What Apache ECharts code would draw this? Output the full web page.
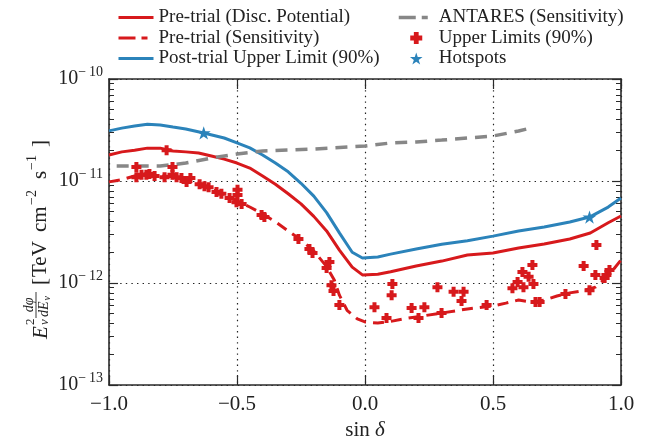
<!DOCTYPE html>
<html><head><meta charset="utf-8">
<script src="https://cdn.jsdelivr.net/npm/echarts@6/dist/echarts.min.js"></script>
<style>html,body{margin:0;padding:0;background:#fff}#c{width:646px;height:438px}</style>
</head><body><div id="c"></div>
<script>
// ---- data (sin(declination), flux E^2 dphi/dE in TeV cm^-2 s^-1) ----
const xTicks = [-1.0, -0.5, 0.0, 0.5, 1.0];
const yDecades = [1e-13, 1e-12, 1e-11, 1e-10];

const discPotential = [[-1.0,1.8e-11],[-0.95,1.93e-11],[-0.9,2.0e-11],[-0.85,2.1e-11],[-0.8,2.1e-11],[-0.75,1.97e-11],[-0.7,1.93e-11],[-0.65,1.88e-11],[-0.6,1.76e-11],[-0.55,1.64e-11],[-0.5,1.5e-11],[-0.45,1.34e-11],[-0.4,1.12e-11],[-0.35,9.3e-12],[-0.3,7.5e-12],[-0.25,5.96e-12],[-0.2,4.5e-12],[-0.15,3.24e-12],[-0.1,2.1e-12],[-0.05,1.43e-12],[-0.01,1.2e-12],[0.05,1.22e-12],[0.1,1.29e-12],[0.2,1.47e-12],[0.3,1.64e-12],[0.4,1.88e-12],[0.5,1.97e-12],[0.6,2.2e-12],[0.7,2.41e-12],[0.8,2.7e-12],[0.88,3.09e-12],[0.95,3.9e-12],[1.0,4.54e-12]];

const sensitivity = [[-1.0,9.8e-12],[-0.95,1.03e-11],[-0.9,1.12e-11],[-0.85,1.15e-11],[-0.8,1.12e-11],[-0.75,1.1e-11],[-0.7,1.05e-11],[-0.65,9.6e-12],[-0.6,8.35e-12],[-0.55,7.3e-12],[-0.5,6.4e-12],[-0.45,5.56e-12],[-0.4,4.76e-12],[-0.35,3.98e-12],[-0.3,3.24e-12],[-0.25,2.64e-12],[-0.2,2.06e-12],[-0.15,1.45e-12],[-0.12,1.07e-12],[-0.1,7.6e-13],[-0.07,5.4e-13],[-0.03,4.45e-13],[0.0,4.15e-13],[0.05,4.05e-13],[0.1,4.2e-13],[0.15,4.45e-13],[0.2,4.65e-13],[0.3,5.08e-13],[0.4,5.56e-13],[0.5,5.95e-13],[0.55,6.35e-13],[0.6,6.8e-13],[0.65,6.5e-13],[0.7,6.8e-13],[0.75,7.45e-13],[0.8,8.0e-13],[0.85,8.4e-13],[0.9,9.1e-13],[0.95,1.17e-12],[1.0,1.68e-12]];

const postTrialUL = [[-1.0,3.1e-11],[-0.95,3.3e-11],[-0.9,3.46e-11],[-0.85,3.6e-11],[-0.8,3.54e-11],[-0.75,3.38e-11],[-0.7,3.24e-11],[-0.63,2.96e-11],[-0.55,2.64e-11],[-0.5,2.36e-11],[-0.45,2.11e-11],[-0.4,1.8e-11],[-0.35,1.5e-11],[-0.3,1.23e-11],[-0.25,9.5e-12],[-0.2,7.1e-12],[-0.15,4.9e-12],[-0.1,3.1e-12],[-0.05,2.0e-12],[-0.01,1.76e-12],[0.05,1.8e-12],[0.1,1.92e-12],[0.2,2.15e-12],[0.3,2.4e-12],[0.4,2.6e-12],[0.5,2.88e-12],[0.6,3.23e-12],[0.7,3.54e-12],[0.8,3.97e-12],[0.877,4.43e-12],[0.95,5.55e-12],[1.0,6.8e-12]];

const antares = [[-0.97,1.4e-11],[-0.8,1.4e-11],[-0.7,1.5e-11],[-0.6,1.68e-11],[-0.5,1.84e-11],[-0.4,1.97e-11],[-0.2,2.06e-11],[0.0,2.2e-11],[0.1,2.36e-11],[0.2,2.41e-11],[0.3,2.52e-11],[0.4,2.64e-11],[0.5,2.76e-11],[0.6,3.09e-11],[0.63,3.23e-11]];

const upperLimits = [[-0.893,1.37e-11],[-0.893,1.09e-11],[-0.873,1.15e-11],[-0.854,1.15e-11],[-0.842,1.17e-11],[-0.822,1.12e-11],[-0.783,1.09e-11],[-0.775,2.0e-11],[-0.752,1.37e-11],[-0.752,1.15e-11],[-0.736,1.09e-11],[-0.717,1.07e-11],[-0.697,9.8e-12],[-0.682,1.07e-11],[-0.646,9.3e-12],[-0.627,8.9e-12],[-0.611,8.7e-12],[-0.58,7.8e-12],[-0.561,7.5e-12],[-0.529,6.8e-12],[-0.498,8.2e-12],[-0.498,7.3e-12],[-0.502,6.2e-12],[-0.482,5.95e-12],[-0.404,4.65e-12],[-0.393,4.43e-12],[-0.26,2.7e-12],[-0.217,2.15e-12],[-0.205,1.97e-12],[-0.139,1.61e-12],[-0.15,1.4e-12],[-0.131,9.5e-13],[-0.123,8.35e-13],[-0.1,6.1e-13],[0.037,5.8e-13],[0.084,4.54e-13],[0.104,7.6e-13],[0.107,9.8e-13],[0.182,5.7e-13],[0.209,4.54e-13],[0.232,5.8e-13],[0.283,9.1e-13],[0.299,5.08e-13],[0.346,8.2e-13],[0.385,8.2e-13],[0.377,6.67e-13],[0.475,6.1e-13],[0.576,8.9e-13],[0.596,1.02e-12],[0.615,1.28e-12],[0.619,9.1e-13],[0.639,1.15e-12],[0.654,1.5e-12],[0.658,9.8e-13],[0.666,6.5e-13],[0.682,6.5e-13],[0.783,7.8e-13],[0.854,1.47e-12],[0.877,8.5e-13],[0.9,1.2e-12],[0.904,2.36e-12],[0.943,1.2e-12],[0.955,1.34e-12],[0.936,1.12e-12]];

const hotspots = [[-0.63,2.96e-11],[0.877,4.43e-12]];

// ---- styling ----
const FONT = '"Liberation Serif", "DejaVu Serif", serif';
const INK = '#222';
const RED = '#d7191c', BLUE = '#2b83ba', GRAY = '#878787';
const PLUS = 'path://M3,0H7V3H10V7H7V10H3V7H0V3H3Z';
const STAR = 'path://M10,0L12.245,6.91L19.511,6.91L13.633,11.18L15.878,18.09L10,13.82L4.122,18.09L6.367,11.18L0.489,6.91L7.755,6.91Z';

const minorVals = [];
yDecades.slice(0, -1).forEach(d => { for (let m = 2; m <= 9; m++) minorVals.push(m * d); });

const spine = {show: true, onZero: false, lineStyle: {color: '#2a2a2a', width: 1.6}};
const dotted = {show: true, lineStyle: {color: '#222', width: 1.2, type: [1.4, 4.2]}};

function yAx(pos, opts) {
  return Object.assign({
    type: 'log', logBase: 10, min: yDecades[0], max: yDecades[yDecades.length - 1], position: pos,
    axisLine: spine, axisTick: {show: true, inside: true, length: 9, lineStyle: {color: '#2a2a2a', width: 1.2}},
    axisLabel: {show: false}, splitLine: {show: false}, minorTick: {show: false}
  }, opts);
}
function minorAx(pos) {
  return yAx(pos, {axisLine: {show: false, onZero: false},
    axisTick: {show: true, inside: true, length: 5, customValues: minorVals, lineStyle: {color: '#2a2a2a', width: 1}}});
}
const hideSym = {opacity: 0};
const legendDash = {type: [17, 6, 6, 12]};
const legendText = {fontFamily: FONT, fontSize: 19, color: INK};

// y-axis title pieces (local coords of a rotated group)
function t(text, x, y, size, italic, align) {
  return {type: 'text', x: x, y: y, style: {text: text, fontFamily: FONT, fontStyle: italic ? 'italic' : 'normal',
    fontSize: size, fill: INK, align: align || 'left', verticalAlign: 'middle'}};
}

const chart = echarts.init(document.getElementById('c'));
chart.setOption({
  animation: false,
  backgroundColor: '#fff',
  grid: {left: 109, right: 25, top: 79, bottom: 53, outerBoundsMode: 'none', containLabel: false},
  legend: [
    {data: [{name: 'Pre-trial (Disc. Potential)', itemStyle: hideSym},
            {name: 'Pre-trial (Sensitivity)', itemStyle: hideSym, lineStyle: legendDash},
            {name: 'Post-trial Upper Limit (90%)', itemStyle: hideSym}],
     orient: 'vertical', left: 117, top: 8, padding: 0, itemWidth: 35, itemHeight: 12, itemGap: 1.5,
     lineStyle: {width: 'inherit'}, textStyle: legendText},
    {data: [{name: 'ANTARES (Sensitivity)', itemStyle: hideSym, lineStyle: legendDash}, 'Upper Limits (90%)', 'Hotspots'],
     orient: 'vertical', left: 397, top: 8, padding: 0, itemWidth: 35, itemHeight: 12, itemGap: 1.5,
     lineStyle: {width: 'inherit'}, textStyle: legendText}
  ],
  xAxis: [
    {type: 'value', min: xTicks[0], max: xTicks[xTicks.length - 1], interval: 0.5, position: 'bottom',
     axisLine: spine, axisTick: {inside: true, length: 10, lineStyle: {color: '#2a2a2a', width: 1.2}},
     axisLabel: {margin: 9, fontFamily: FONT, fontSize: 21, color: INK,
       formatter: v => (v < 0 ? '\u2212' : '') + Math.abs(v).toFixed(1)},
     splitLine: dotted,
     name: '{r|sin }{i|\u03b4}', nameLocation: 'middle', nameGap: 28,
     nameTextStyle: {rich: {r: {fontFamily: FONT, fontSize: 21, color: INK}, i: {fontFamily: FONT, fontStyle: 'italic', fontSize: 21, color: INK}}}},
    {type: 'value', min: xTicks[0], max: xTicks[xTicks.length - 1], interval: 0.5, position: 'top',
     axisLine: spine, axisTick: {inside: true, length: 10, lineStyle: {color: '#2a2a2a', width: 1.2}},
     axisLabel: {show: false}, splitLine: {show: false}}
  ],
  yAxis: [
    yAx('left', {
      axisLabel: {show: true, margin: 6, formatter: v => '{b|10}{s|\u2212\u2009' + Math.abs(Math.round(Math.log10(v))) + '}',
        rich: {b: {fontFamily: FONT, fontSize: 20, color: INK, lineHeight: 28},
               s: {fontFamily: FONT, fontSize: 14, color: INK, lineHeight: 15, verticalAlign: 'top'}}},
      splitLine: dotted}),
    yAx('right', {}),
    minorAx('left'),
    minorAx('right')
  ],
  series: [
    {name: 'Pre-trial (Disc. Potential)', type: 'line', data: discPotential, symbol: 'none', z: 3,
     lineStyle: {color: RED, width: 3}, itemStyle: {color: RED}},
    {name: 'Pre-trial (Sensitivity)', type: 'line', data: sensitivity, symbol: 'none', z: 3,
     lineStyle: {color: RED, width: 3, type: [11, 7]}, itemStyle: {color: RED}},
    {name: 'Post-trial Upper Limit (90%)', type: 'line', data: postTrialUL, symbol: 'none', z: 3,
     lineStyle: {color: BLUE, width: 3}, itemStyle: {color: BLUE}},
    {name: 'ANTARES (Sensitivity)', type: 'line', data: antares, symbol: 'none', z: 3,
     lineStyle: {color: GRAY, width: 3.5, type: [12, 8]}, itemStyle: {color: GRAY}},
    {name: 'Upper Limits (90%)', type: 'scatter', data: upperLimits, symbol: PLUS, symbolSize: 10, symbolKeepAspect: true, z: 4,
     itemStyle: {color: RED, opacity: 1}},
    {name: 'Hotspots', type: 'scatter', data: hotspots, symbol: STAR, symbolSize: 14, symbolKeepAspect: true, z: 5,
     itemStyle: {color: BLUE, opacity: 1}}
  ],
  graphic: [{
    type: 'group', x: 40, y: 233, rotation: Math.PI / 2,
    children: [
      t('E', -106, 1, 21, true),
      t('2', -92, -9, 13, false),
      t('\u03bd', -92, 5, 13, true),
      t('d\u03c6', -72, -11, 14, true, 'center'),
      {type: 'line', shape: {x1: -85, y1: -4, x2: -59, y2: -4}, style: {stroke: INK, lineWidth: 0.9}},
      t('dE', -84, 4, 14, true),
      t('\u03bd', -67.5, 7, 10, true),
      t('[', -52, 0, 21, false),
      t('TeV', -44, 0, 21, false),
      t('cm', 1, 0, 21, false),
      t('\u22122', 28, -8, 14, false),
      t('s', 54, 0, 21, false),
      t('\u22121', 63, -8, 14, false),
      t(']', 86, 0, 21, false)
    ]
  }]
});
</script></body></html>
